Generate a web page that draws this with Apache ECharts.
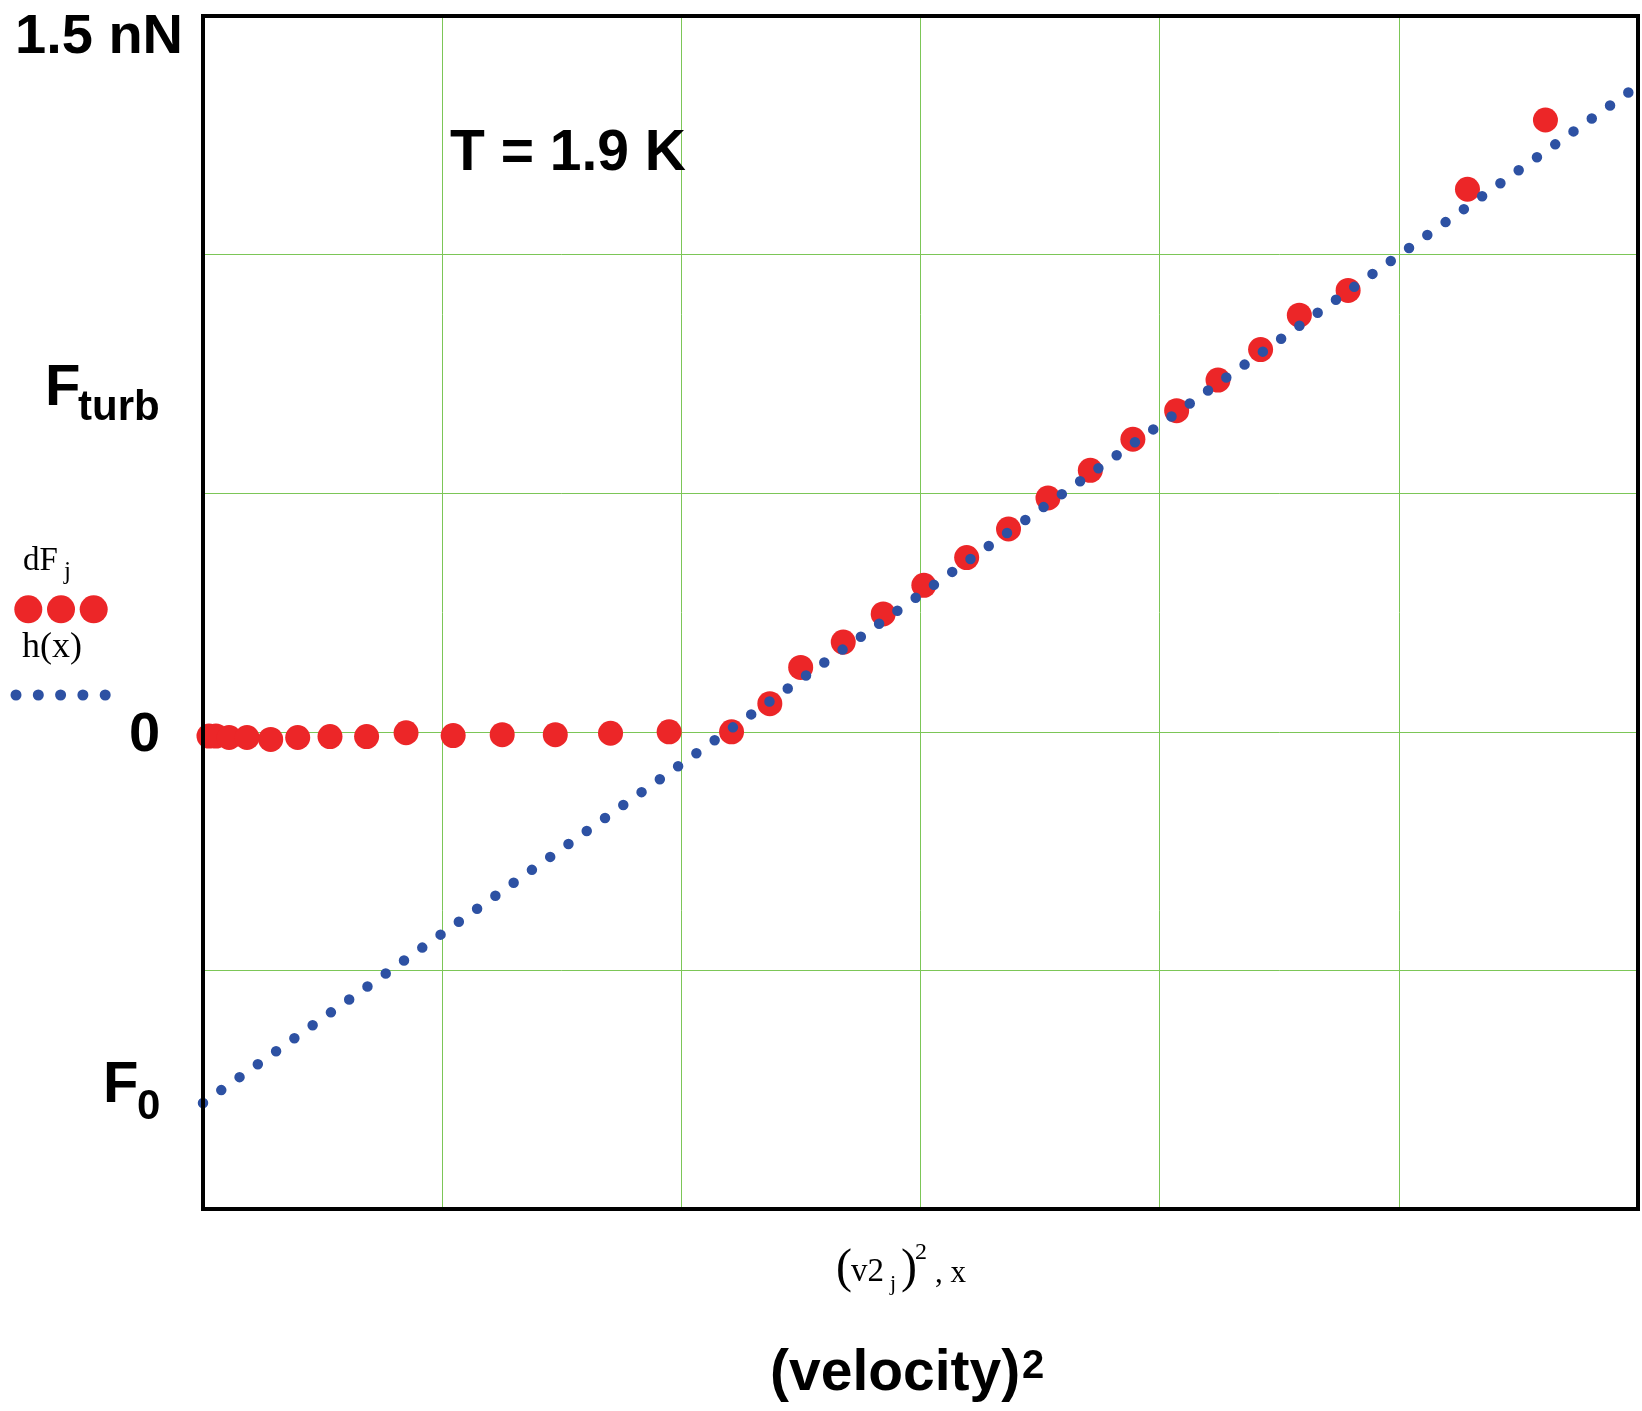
<!DOCTYPE html>
<html>
<head>
<meta charset="utf-8">
<script src="https://cdn.jsdelivr.net/npm/echarts@6/dist/echarts.min.js"></script>
<style>
html,body{margin:0;padding:0;background:#fff;}
#chart{width:1642px;height:1411px;}
</style>
</head>
<body>
<div id="chart"></div>
<script>
// ---- data ----
// x: (velocity)^2 in grid units (0..6), y: force in nN
const dfX = [0.025, 0.054, 0.109, 0.184, 0.283, 0.396, 0.531, 0.684, 0.849, 1.046, 1.251, 1.473, 1.704, 1.949, 2.210,
             2.370, 2.499, 2.677, 2.844, 3.014, 3.193, 3.368, 3.533, 3.710, 3.888, 4.071, 4.244, 4.422, 4.584, 4.788, 5.287, 5.613];
const dfY = [-0.009, -0.009, -0.012, -0.012, -0.016, -0.012, -0.010, -0.010, -0.002, -0.008, -0.006, -0.006, -0.003, 0.000, 0.000,
             0.059, 0.135, 0.188, 0.247, 0.307, 0.365, 0.425, 0.490, 0.548, 0.613, 0.673, 0.737, 0.801, 0.873, 0.925, 1.137, 1.282];
const hX = [0, 6];
const hY = [-0.778, 1.354];

const yTickLabels = ['1.5 nN', '0'];
const seriesNames = ['dF', 'h(x)'];
const tempLabel = 'T = 1.9 K';
const xAxisTitle = '(velocity)';

const RED = '#ec2628';
const BLUE = '#2d51a3';
const GREEN = '#7cc657';
const SANS = '"Liberation Sans", Arial, Helvetica, sans-serif';
const SERIF = '"Liberation Serif", "Times New Roman", serif';

const GRID = {left: 203, top: 16, width: 1435, height: 1193};

function txt(text, x, y, font, align, valign) {
  return {
    type: 'text', x: x, y: y, z: 100,
    style: {
      text: text, font: font, fill: '#000',
      textAlign: align || 'left', textVerticalAlign: valign || 'middle',
      align: align || 'left', verticalAlign: valign || 'middle'
    }
  };
}

const chart = echarts.init(document.getElementById('chart'), null, {renderer: 'canvas'});

const graphic = [
  // plot frame (drawn above the green grid lines)
  {type: 'rect', z: 50, silent: true,
   shape: {x: GRID.left, y: GRID.top, width: GRID.width, height: GRID.height},
   style: {fill: 'none', stroke: '#000', lineWidth: 4}},
  // y-axis annotations
  txt(yTickLabels[0], 15, 38, 'bold 56px ' + SANS),
  txt('F', 45, 389, 'bold 58px ' + SANS),
  txt('turb', 78, 408, 'bold 42px ' + SANS),
  txt(yTickLabels[1], 129, 736, 'bold 56px ' + SANS),
  txt('F', 103, 1086, 'bold 58px ' + SANS),
  txt('0', 137, 1107, 'bold 42px ' + SANS),
  // temperature
  txt(tempLabel, 450, 154, 'bold 57px ' + SANS),
  // legend (Mathcad style)
  txt(seriesNames[0], 23, 561, '33px ' + SERIF),
  txt('j', 64, 572, '25px ' + SERIF),
  txt(seriesNames[1], 22, 648, '36px ' + SERIF),
  // x-axis math label
  txt('(', 836, 1269, '48px ' + SERIF),
  txt('v2', 851, 1272, '33px ' + SERIF),
  txt('j', 890, 1284, '22px ' + SERIF),
  txt(')', 901, 1269, '48px ' + SERIF),
  txt('2', 915, 1253, '24px ' + SERIF),
  txt(', x', 935, 1274, '31px ' + SERIF),
  // x-axis title
  txt(xAxisTitle, 770, 1374, 'bold 57px ' + SANS),
  txt('2', 1022, 1367, 'bold 40px ' + SANS)
];
[28.3, 61, 93.7].forEach(function (cx) {
  graphic.push({type: 'circle', z: 100, shape: {cx: cx, cy: 609.3, r: 14}, style: {fill: RED}});
});
[16, 38.3, 60.6, 82.9, 105.2].forEach(function (cx) {
  graphic.push({type: 'circle', z: 100, shape: {cx: cx, cy: 695, r: 5.5}, style: {fill: BLUE}});
});

chart.setOption({
  animation: false,
  backgroundColor: '#fff',
  graphic: graphic,
  grid: {
    left: GRID.left, top: GRID.top, width: GRID.width, height: GRID.height,
    show: false
  },
  xAxis: {
    type: 'value', min: 0, max: 6, interval: 1,
    axisLine: {show: false}, axisTick: {show: false}, axisLabel: {show: false},
    splitLine: {show: true, lineStyle: {color: GREEN, width: 1}}
  },
  yAxis: {
    type: 'value', min: -1, max: 1.5, interval: 0.5,
    axisLine: {show: false}, axisTick: {show: false}, axisLabel: {show: false},
    splitLine: {show: true, lineStyle: {color: GREEN, width: 1}}
  },
  series: [
    {
      name: seriesNames[0], type: 'scatter', z: 2,
      symbol: 'circle', symbolSize: 25,
      itemStyle: {color: RED, opacity: 1},
      data: dfX.map(function (x, i) { return [x, dfY[i]]; })
    },
    {
      name: seriesNames[1], type: 'line', z: 3,
      showSymbol: false, symbol: 'none',
      lineStyle: {color: BLUE, width: 10.5, type: [0, 22.4], cap: 'round'},
      data: hX.map(function (x, i) { return [x, hY[i]]; })
    }
  ]
});
</script>
</body>
</html>
